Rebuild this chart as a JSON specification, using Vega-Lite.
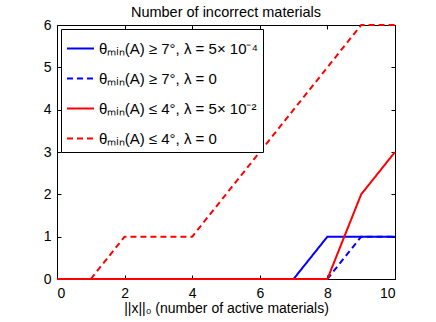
{
  "$schema": "https://vega.github.io/schema/vega-lite/v6.json",
  "width": 338,
  "height": 254,
  "autosize": {"type": "none"},
  "padding": {"left": 57, "top": 25, "right": 41, "bottom": 43},
  "title": {"text": "Number of incorrect materials", "fontSize": 14.5, "fontWeight": "normal", "font": "Liberation Sans", "color": "black", "offset": -2},
  "data": {
    "values": [
      {"s": "θₘᵢₙ(A) ≥ 7°, λ = 5× 10⁻⁴", "x": 0, "y": 0},
      {"s": "θₘᵢₙ(A) ≥ 7°, λ = 5× 10⁻⁴", "x": 1, "y": 0},
      {"s": "θₘᵢₙ(A) ≥ 7°, λ = 5× 10⁻⁴", "x": 2, "y": 0},
      {"s": "θₘᵢₙ(A) ≥ 7°, λ = 5× 10⁻⁴", "x": 3, "y": 0},
      {"s": "θₘᵢₙ(A) ≥ 7°, λ = 5× 10⁻⁴", "x": 4, "y": 0},
      {"s": "θₘᵢₙ(A) ≥ 7°, λ = 5× 10⁻⁴", "x": 5, "y": 0},
      {"s": "θₘᵢₙ(A) ≥ 7°, λ = 5× 10⁻⁴", "x": 6, "y": 0},
      {"s": "θₘᵢₙ(A) ≥ 7°, λ = 5× 10⁻⁴", "x": 7, "y": 0},
      {"s": "θₘᵢₙ(A) ≥ 7°, λ = 5× 10⁻⁴", "x": 8, "y": 1},
      {"s": "θₘᵢₙ(A) ≥ 7°, λ = 5× 10⁻⁴", "x": 9, "y": 1},
      {"s": "θₘᵢₙ(A) ≥ 7°, λ = 5× 10⁻⁴", "x": 10, "y": 1},
      {"s": "θₘᵢₙ(A) ≥ 7°, λ = 0", "x": 0, "y": 0},
      {"s": "θₘᵢₙ(A) ≥ 7°, λ = 0", "x": 1, "y": 0},
      {"s": "θₘᵢₙ(A) ≥ 7°, λ = 0", "x": 2, "y": 0},
      {"s": "θₘᵢₙ(A) ≥ 7°, λ = 0", "x": 3, "y": 0},
      {"s": "θₘᵢₙ(A) ≥ 7°, λ = 0", "x": 4, "y": 0},
      {"s": "θₘᵢₙ(A) ≥ 7°, λ = 0", "x": 5, "y": 0},
      {"s": "θₘᵢₙ(A) ≥ 7°, λ = 0", "x": 6, "y": 0},
      {"s": "θₘᵢₙ(A) ≥ 7°, λ = 0", "x": 7, "y": 0},
      {"s": "θₘᵢₙ(A) ≥ 7°, λ = 0", "x": 8, "y": 0},
      {"s": "θₘᵢₙ(A) ≥ 7°, λ = 0", "x": 9, "y": 1},
      {"s": "θₘᵢₙ(A) ≥ 7°, λ = 0", "x": 10, "y": 1},
      {"s": "θₘᵢₙ(A) ≤ 4°, λ = 5× 10⁻²", "x": 0, "y": 0},
      {"s": "θₘᵢₙ(A) ≤ 4°, λ = 5× 10⁻²", "x": 1, "y": 0},
      {"s": "θₘᵢₙ(A) ≤ 4°, λ = 5× 10⁻²", "x": 2, "y": 0},
      {"s": "θₘᵢₙ(A) ≤ 4°, λ = 5× 10⁻²", "x": 3, "y": 0},
      {"s": "θₘᵢₙ(A) ≤ 4°, λ = 5× 10⁻²", "x": 4, "y": 0},
      {"s": "θₘᵢₙ(A) ≤ 4°, λ = 5× 10⁻²", "x": 5, "y": 0},
      {"s": "θₘᵢₙ(A) ≤ 4°, λ = 5× 10⁻²", "x": 6, "y": 0},
      {"s": "θₘᵢₙ(A) ≤ 4°, λ = 5× 10⁻²", "x": 7, "y": 0},
      {"s": "θₘᵢₙ(A) ≤ 4°, λ = 5× 10⁻²", "x": 8, "y": 0},
      {"s": "θₘᵢₙ(A) ≤ 4°, λ = 5× 10⁻²", "x": 9, "y": 2},
      {"s": "θₘᵢₙ(A) ≤ 4°, λ = 5× 10⁻²", "x": 10, "y": 3},
      {"s": "θₘᵢₙ(A) ≤ 4°, λ = 0", "x": 1, "y": 0},
      {"s": "θₘᵢₙ(A) ≤ 4°, λ = 0", "x": 2, "y": 1},
      {"s": "θₘᵢₙ(A) ≤ 4°, λ = 0", "x": 3, "y": 1},
      {"s": "θₘᵢₙ(A) ≤ 4°, λ = 0", "x": 4, "y": 1},
      {"s": "θₘᵢₙ(A) ≤ 4°, λ = 0", "x": 5, "y": 2},
      {"s": "θₘᵢₙ(A) ≤ 4°, λ = 0", "x": 6, "y": 3},
      {"s": "θₘᵢₙ(A) ≤ 4°, λ = 0", "x": 7, "y": 4},
      {"s": "θₘᵢₙ(A) ≤ 4°, λ = 0", "x": 8, "y": 5},
      {"s": "θₘᵢₙ(A) ≤ 4°, λ = 0", "x": 9, "y": 6},
      {"s": "θₘᵢₙ(A) ≤ 4°, λ = 0", "x": 10, "y": 6}
    ]
  },
  "layer": [
    {
      "mark": {"type": "point", "opacity": 0},
      "encoding": {
        "x": {"field": "x", "type": "quantitative", "scale": {"domain": [0, 10], "nice": false}, "axis": {"orient": "top", "labels": false, "title": null, "values": [0, 2, 4, 6, 8, 10], "offset": -4}},
        "y": {"field": "y", "type": "quantitative", "scale": {"domain": [0, 6], "nice": false}, "axis": {"orient": "right", "labels": false, "title": null, "values": [0, 1, 2, 3, 4, 5, 6], "offset": -4}}
      }
    },
    {
      "mark": {"type": "line", "strokeWidth": 2, "clip": false},
      "encoding": {
        "x": {"field": "x", "type": "quantitative", "scale": {"domain": [0, 10], "nice": false}, "axis": {"orient": "bottom", "title": "||x||₀ (number of active materials)", "values": [0, 2, 4, 6, 8, 10], "offset": -4, "labelPadding": 7, "titlePadding": 1}},
        "y": {"field": "y", "type": "quantitative", "scale": {"domain": [0, 6], "nice": false}, "axis": {"orient": "left", "title": null, "values": [0, 1, 2, 3, 4, 5, 6], "offset": -4, "labelPadding": 6}},
        "color": {"field": "s", "type": "nominal", "scale": {"domain": ["θₘᵢₙ(A) ≥ 7°, λ = 5× 10⁻⁴", "θₘᵢₙ(A) ≥ 7°, λ = 0", "θₘᵢₙ(A) ≤ 4°, λ = 5× 10⁻²", "θₘᵢₙ(A) ≤ 4°, λ = 0"], "range": ["#0000ff", "#0000ff", "#ff0000", "#ff0000"]}, "legend": {"title": null}},
        "strokeDash": {"field": "s", "type": "nominal", "scale": {"domain": ["θₘᵢₙ(A) ≥ 7°, λ = 5× 10⁻⁴", "θₘᵢₙ(A) ≥ 7°, λ = 0", "θₘᵢₙ(A) ≤ 4°, λ = 5× 10⁻²", "θₘᵢₙ(A) ≤ 4°, λ = 0"], "range": [[1, 0], [6, 4], [1, 0], [6, 4]]}, "legend": {"title": null}}
      }
    }
  ],
  "resolve": {"scale": {"x": "independent", "y": "independent"}, "axis": {"x": "independent", "y": "independent"}},
  "config": {
    "font": "Liberation Sans",
    "view": {"stroke": "black", "strokeWidth": 1},
    "axis": {
      "domain": false,
      "grid": false,
      "ticks": true,
      "tickColor": "black",
      "tickSize": 4,
      "tickWidth": 1,
      "labelColor": "black",
      "labelFontSize": 14,
      "labelFont": "Liberation Sans",
      "titleFont": "Liberation Sans",
      "titleFontSize": 14,
      "titleFontWeight": "normal",
      "titleColor": "black"
    },
    "legend": {
      "orient": "top-left",
      "offset": 4,
      "strokeColor": "black",
      "fillColor": "white",
      "padding": 5,
      "rowPadding": 7,
      "symbolType": "stroke",
      "symbolSize": 729,
      "symbolStrokeWidth": 2,
      "labelFontSize": 15,
      "labelFont": "Liberation Sans",
      "labelColor": "black",
      "labelLimit": 300,
      "labelOffset": 4
    }
  }
}
